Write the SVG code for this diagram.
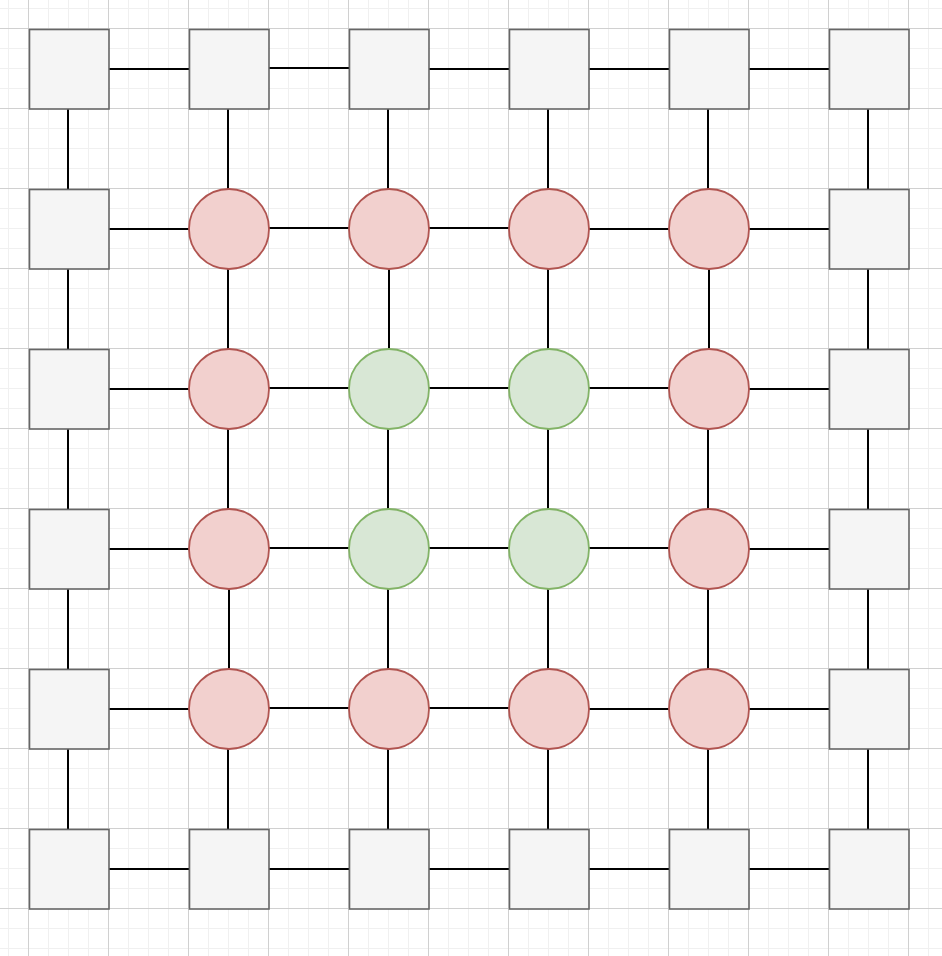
<svg xmlns="http://www.w3.org/2000/svg" width="942" height="956" viewBox="0 0 942 956">
  <defs>
    <pattern id="minor" x="8" y="8" width="20" height="20" patternUnits="userSpaceOnUse">
      <path d="M0.5 0V20M0 0.5H20" stroke="#f0f0f0" stroke-width="1" fill="none"/>
    </pattern>
    <pattern id="major" x="28" y="28" width="80" height="80" patternUnits="userSpaceOnUse">
      <path d="M0.5 0V80M0 0.5H80" stroke="#d0d0d0" stroke-width="1" fill="none"/>
    </pattern>
  </defs>
  <style>
    .sq { fill: #f5f5f5; stroke: #666666; stroke-width: 1.6; }
    .red { fill: #f2d0ce; stroke: #b05450; stroke-width: 1.8; }
    .green { fill: #d8e7d5; stroke: #82b366; stroke-width: 1.8; }
    #connectors line { stroke: #000000; stroke-width: 2; }
  </style>
  <rect width="942" height="956" fill="#ffffff"/>
  <rect width="942" height="956" fill="url(#minor)"/>
  <rect width="942" height="956" fill="url(#major)"/>

  <g id="connectors">
    <line x1="109" y1="69" x2="189" y2="69"/>
    <line x1="269" y1="68" x2="349" y2="68"/>
    <line x1="429" y1="69" x2="509" y2="69"/>
    <line x1="589" y1="69" x2="669" y2="69"/>
    <line x1="749" y1="69" x2="829" y2="69"/>

    <line x1="109" y1="229" x2="189" y2="229"/>
    <line x1="269" y1="228" x2="349" y2="228"/>
    <line x1="429" y1="228" x2="509" y2="228"/>
    <line x1="589" y1="229" x2="669" y2="229"/>
    <line x1="749" y1="229" x2="829" y2="229"/>

    <line x1="109" y1="389" x2="189" y2="389"/>
    <line x1="269" y1="388" x2="349" y2="388"/>
    <line x1="429" y1="388" x2="509" y2="388"/>
    <line x1="589" y1="388" x2="669" y2="388"/>
    <line x1="749" y1="389" x2="829" y2="389"/>

    <line x1="109" y1="549" x2="189" y2="549"/>
    <line x1="269" y1="548" x2="349" y2="548"/>
    <line x1="429" y1="548" x2="509" y2="548"/>
    <line x1="589" y1="548" x2="669" y2="548"/>
    <line x1="749" y1="549" x2="829" y2="549"/>

    <line x1="109" y1="709" x2="189" y2="709"/>
    <line x1="269" y1="708" x2="349" y2="708"/>
    <line x1="429" y1="708" x2="509" y2="708"/>
    <line x1="589" y1="709" x2="669" y2="709"/>
    <line x1="749" y1="709" x2="829" y2="709"/>

    <line x1="109" y1="869" x2="189" y2="869"/>
    <line x1="269" y1="869" x2="349" y2="869"/>
    <line x1="429" y1="869" x2="509" y2="869"/>
    <line x1="589" y1="869" x2="669" y2="869"/>
    <line x1="749" y1="869" x2="829" y2="869"/>

    <line x1="68" y1="109" x2="68" y2="189"/>
    <line x1="68" y1="269" x2="68" y2="349"/>
    <line x1="68" y1="429" x2="68" y2="509"/>
    <line x1="68" y1="589" x2="68" y2="669"/>
    <line x1="68" y1="749" x2="68" y2="829"/>

    <line x1="228" y1="109" x2="228" y2="189"/>
    <line x1="228" y1="269" x2="228" y2="349"/>
    <line x1="228" y1="429" x2="228" y2="509"/>
    <line x1="229" y1="589" x2="229" y2="669"/>
    <line x1="228" y1="749" x2="228" y2="829"/>

    <line x1="388" y1="109" x2="388" y2="189"/>
    <line x1="389" y1="269" x2="389" y2="349"/>
    <line x1="388" y1="429" x2="388" y2="509"/>
    <line x1="388" y1="589" x2="388" y2="669"/>
    <line x1="388" y1="749" x2="388" y2="829"/>

    <line x1="548" y1="109" x2="548" y2="189"/>
    <line x1="548" y1="269" x2="548" y2="349"/>
    <line x1="548" y1="429" x2="548" y2="509"/>
    <line x1="548" y1="589" x2="548" y2="669"/>
    <line x1="548" y1="749" x2="548" y2="829"/>

    <line x1="708" y1="109" x2="708" y2="189"/>
    <line x1="709" y1="269" x2="709" y2="349"/>
    <line x1="708" y1="429" x2="708" y2="509"/>
    <line x1="708" y1="589" x2="708" y2="669"/>
    <line x1="708" y1="749" x2="708" y2="829"/>

    <line x1="868" y1="109" x2="868" y2="189"/>
    <line x1="868" y1="269" x2="868" y2="349"/>
    <line x1="868" y1="429" x2="868" y2="509"/>
    <line x1="868" y1="589" x2="868" y2="669"/>
    <line x1="868" y1="749" x2="868" y2="829"/>
  </g>

  <g id="s00"><rect class="sq" x="29.5" y="29.5" width="79.5" height="79.5"/></g>
  <g id="s01"><rect class="sq" x="189.5" y="29.5" width="79.5" height="79.5"/></g>
  <g id="s02"><rect class="sq" x="349.5" y="29.5" width="79.5" height="79.5"/></g>
  <g id="s03"><rect class="sq" x="509.5" y="29.5" width="79.5" height="79.5"/></g>
  <g id="s04"><rect class="sq" x="669.5" y="29.5" width="79.5" height="79.5"/></g>
  <g id="s05"><rect class="sq" x="829.5" y="29.5" width="79.5" height="79.5"/></g>

  <g id="s10"><rect class="sq" x="29.5" y="189.5" width="79.5" height="79.5"/></g>
  <g id="c11"><circle class="red" cx="229" cy="229" r="40"/></g>
  <g id="c12"><circle class="red" cx="389" cy="229" r="40"/></g>
  <g id="c13"><circle class="red" cx="549" cy="229" r="40"/></g>
  <g id="c14"><circle class="red" cx="709" cy="229" r="40"/></g>
  <g id="s15"><rect class="sq" x="829.5" y="189.5" width="79.5" height="79.5"/></g>

  <g id="s20"><rect class="sq" x="29.5" y="349.5" width="79.5" height="79.5"/></g>
  <g id="c21"><circle class="red" cx="229" cy="389" r="40"/></g>
  <g id="c22"><circle class="green" cx="389" cy="389" r="40"/></g>
  <g id="c23"><circle class="green" cx="549" cy="389" r="40"/></g>
  <g id="c24"><circle class="red" cx="709" cy="389" r="40"/></g>
  <g id="s25"><rect class="sq" x="829.5" y="349.5" width="79.5" height="79.5"/></g>

  <g id="s30"><rect class="sq" x="29.5" y="509.5" width="79.5" height="79.5"/></g>
  <g id="c31"><circle class="red" cx="229" cy="549" r="40"/></g>
  <g id="c32"><circle class="green" cx="389" cy="549" r="40"/></g>
  <g id="c33"><circle class="green" cx="549" cy="549" r="40"/></g>
  <g id="c34"><circle class="red" cx="709" cy="549" r="40"/></g>
  <g id="s35"><rect class="sq" x="829.5" y="509.5" width="79.5" height="79.5"/></g>

  <g id="s40"><rect class="sq" x="29.5" y="669.5" width="79.5" height="79.5"/></g>
  <g id="c41"><circle class="red" cx="229" cy="709" r="40"/></g>
  <g id="c42"><circle class="red" cx="389" cy="709" r="40"/></g>
  <g id="c43"><circle class="red" cx="549" cy="709" r="40"/></g>
  <g id="c44"><circle class="red" cx="709" cy="709" r="40"/></g>
  <g id="s45"><rect class="sq" x="829.5" y="669.5" width="79.5" height="79.5"/></g>

  <g id="s50"><rect class="sq" x="29.5" y="829.5" width="79.5" height="79.5"/></g>
  <g id="s51"><rect class="sq" x="189.5" y="829.5" width="79.5" height="79.5"/></g>
  <g id="s52"><rect class="sq" x="349.5" y="829.5" width="79.5" height="79.5"/></g>
  <g id="s53"><rect class="sq" x="509.5" y="829.5" width="79.5" height="79.5"/></g>
  <g id="s54"><rect class="sq" x="669.5" y="829.5" width="79.5" height="79.5"/></g>
  <g id="s55"><rect class="sq" x="829.5" y="829.5" width="79.5" height="79.5"/></g>
</svg>
